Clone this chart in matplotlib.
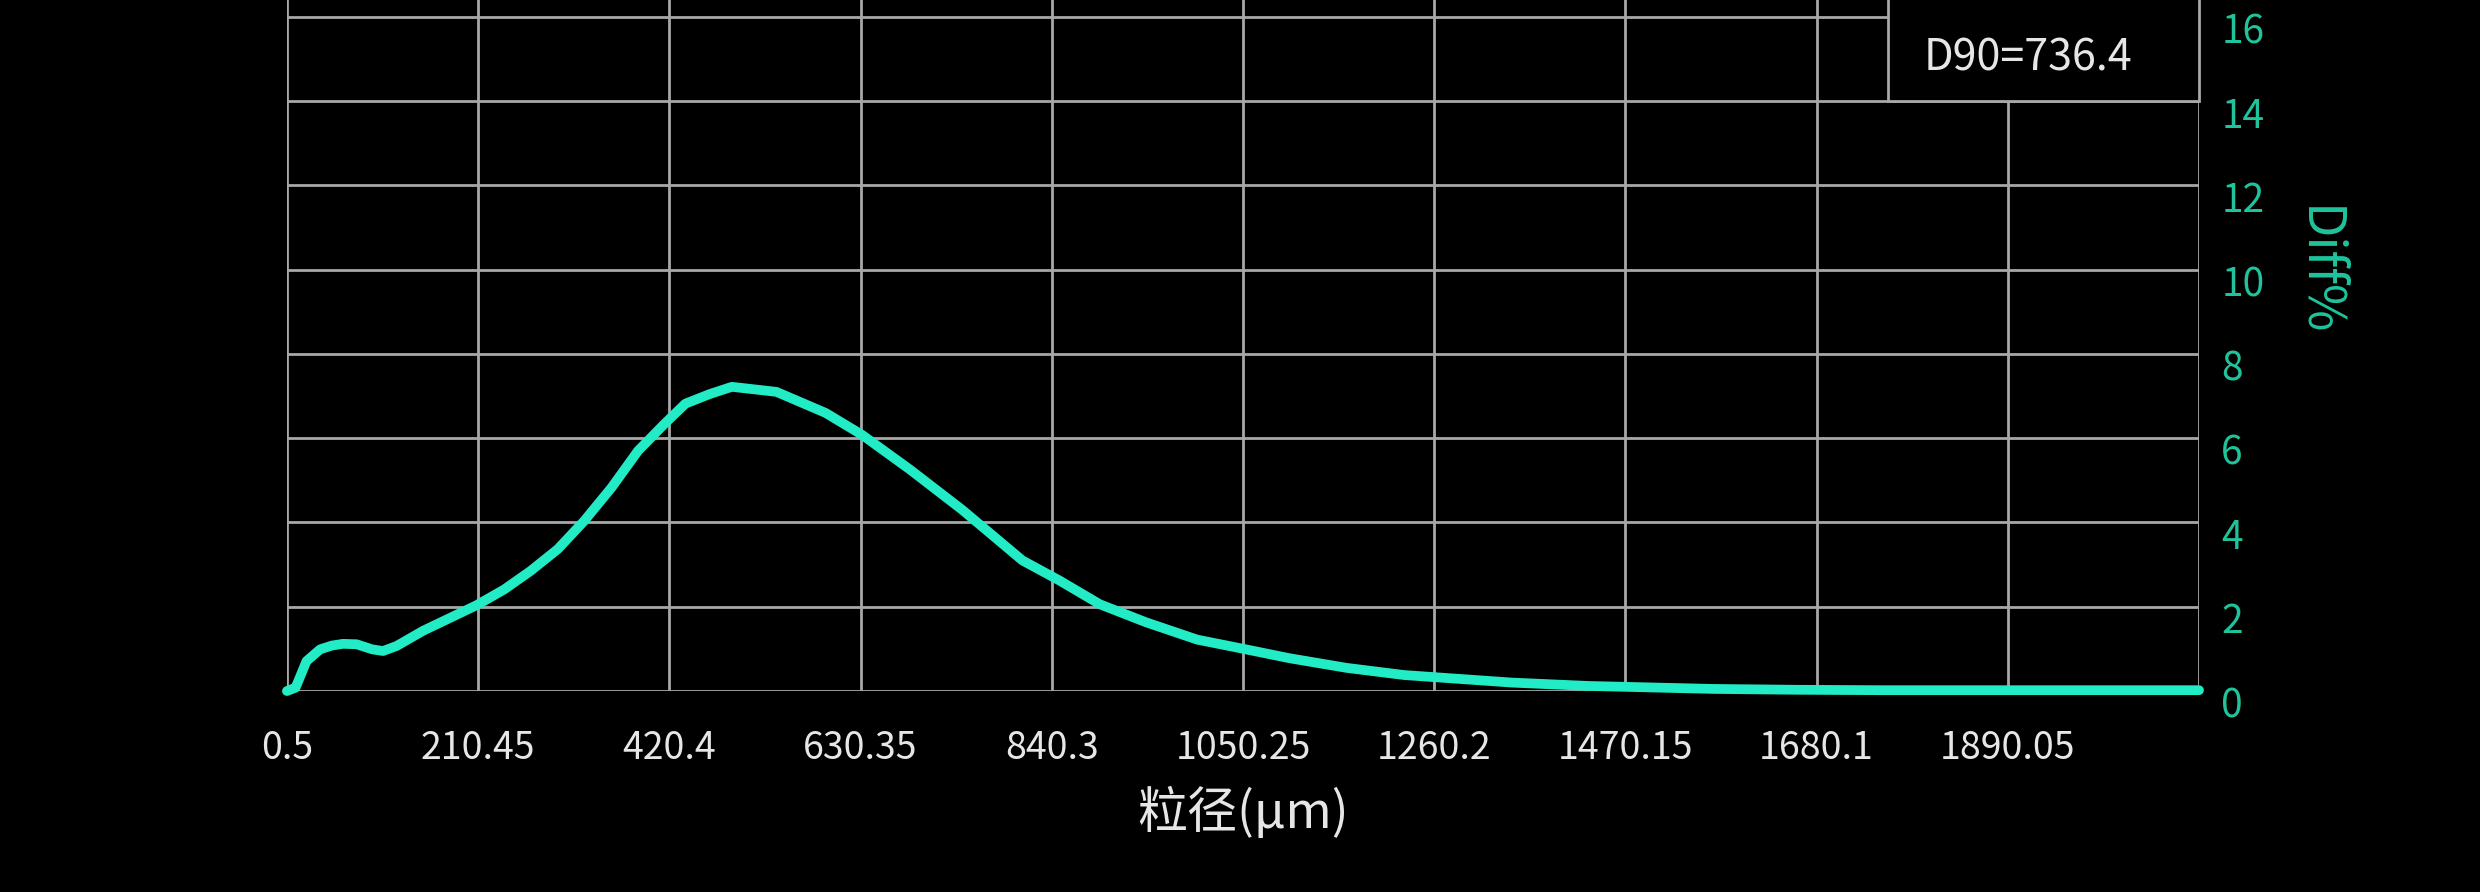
import numpy as np
import matplotlib
matplotlib.use('Agg')
import matplotlib.pyplot as plt
import matplotlib.transforms as mtransforms
from matplotlib.patches import Rectangle

plt.rcParams['font.family'] = ['Noto Sans CJK SC', 'DejaVu Sans']

# particle size (um) and differential percentage
size = [0.5, 10, 22, 37, 50, 62, 77, 94, 106, 121, 150, 180, 209, 239, 268,
        298, 327, 357, 386, 415, 438, 465, 489, 538, 592, 632, 685, 742, 808,
        849, 893, 944, 1000, 1051, 1101, 1164, 1227, 1260, 1346, 1430, 1470,
        1567, 1658, 1750, 1890, 2100]
diff = [0, 0.08, 0.71, 0.99, 1.08, 1.12, 1.11, 0.99, 0.95, 1.07, 1.43, 1.74,
        2.04, 2.41, 2.85, 3.37, 4.04, 4.83, 5.70, 6.34, 6.82, 7.05, 7.22, 7.10,
        6.60, 6.08, 5.25, 4.30, 3.10, 2.62, 2.06, 1.63, 1.22, 1.00, 0.78, 0.55,
        0.38, 0.33, 0.20, 0.12, 0.10, 0.05, 0.03, 0.02, 0.02, 0.02]

x_ticks = [0.5, 210.45, 420.4, 630.35, 840.3, 1050.25, 1260.2, 1470.15,
           1680.1, 1890.05, 2100.0]
x_ticklabels = ['0.5', '210.45', '420.4', '630.35', '840.3', '1050.25',
                '1260.2', '1470.15', '1680.1', '1890.05', '']
y_ticks = [0, 2, 4, 6, 8, 10, 12, 14, 16]
d90_text = 'D90=736.4'

grid_c = '#a8a8a8'
text_c = '#e6e6e6'
line_c = '#22ecc6'
teal_c = '#1fc49c'

fig = plt.figure(figsize=(24.8, 8.92), dpi=100, facecolor='black')
ax = fig.add_axes([0.1157, 0.2253, 0.7710, 0.7747], facecolor='black')

ax.plot(size, diff, color=line_c, lw=7, solid_joinstyle='round',
        solid_capstyle='round', zorder=3, clip_on=False)

ax.set_xlim(0.5, 2100)
ax.set_ylim(0, 16.4)
ax.set_xticks(x_ticks)
ax.set_xticklabels(x_ticklabels)
ax.set_yticks(y_ticks)
ax.yaxis.tick_right()
ax.grid(True, color=grid_c, lw=2.0)
ax.set_axisbelow(True)
for s in ax.spines.values():
    s.set_visible(False)

ax.tick_params(axis='x', length=0, pad=27, labelsize=27, labelcolor=text_c)
ax.tick_params(axis='y', length=0, pad=16, labelsize=28, labelcolor=teal_c)
# y labels sit a little below their grid lines
off = mtransforms.ScaledTranslation(0, -11 / 100, fig.dpi_scale_trans)
for lbl in ax.get_yticklabels():
    lbl.set_transform(lbl.get_transform() + off)

ax.set_xlabel('粒径(μm)', fontsize=36, color=text_c, labelpad=15)
# y title is placed above the middle, as in the original
ax.text(1.062, 0.607, 'Diff%', transform=ax.transAxes, rotation=270,
        ha='center', va='center', fontsize=37, color=teal_c)

# D90 box in the top right corner
ax.add_patch(Rectangle((0.8374, 14 / 16.4), 0.1626, 0.2, transform=ax.transAxes,
                       facecolor='black', edgecolor=grid_c, lw=2.0,
                       zorder=4, clip_on=False))
ax.text(0.9106, 0.915, d90_text, transform=ax.transAxes, ha='center',
        va='center', fontsize=31, color=text_c, zorder=5)

fig.savefig('out.png', dpi=100, facecolor='black')
